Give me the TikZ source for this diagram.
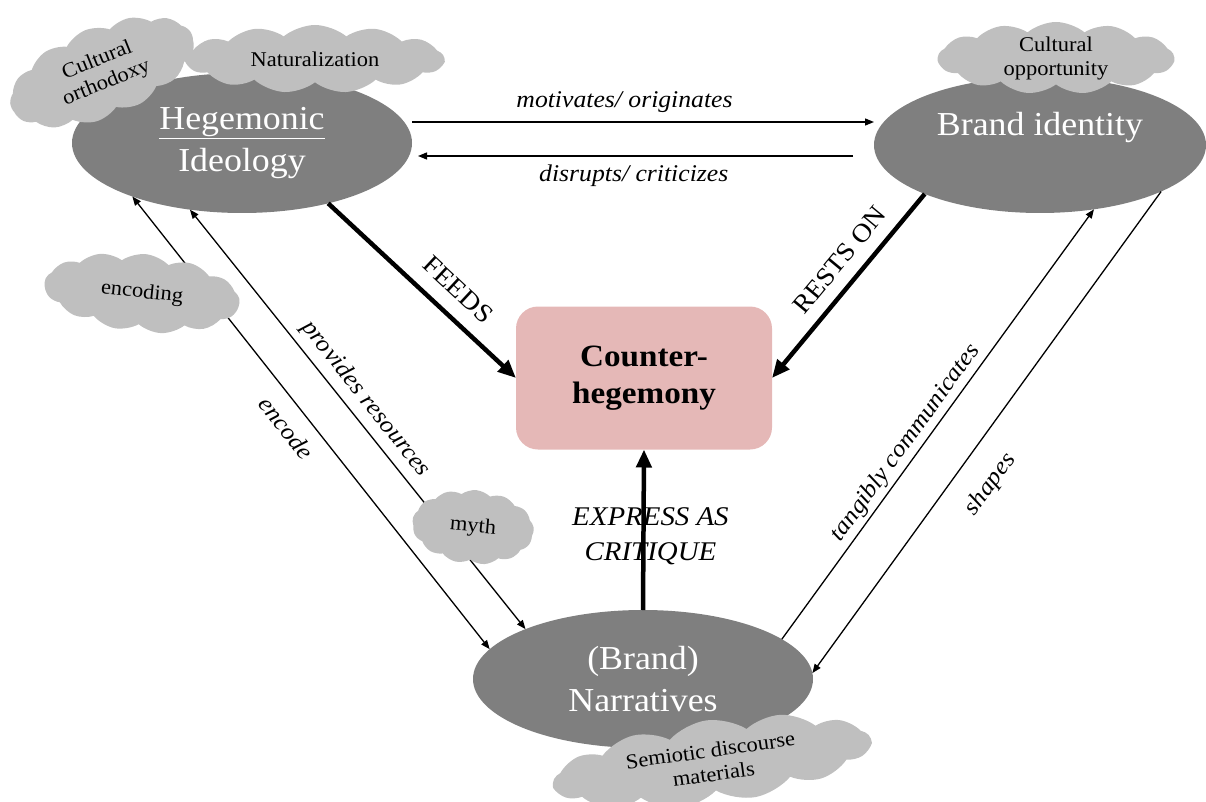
\documentclass[tikz,border=0pt]{standalone}
\usepackage{fontspec}
\setmainfont{Liberation Serif}[FakeStretch=1.07]
\usepackage{tikz}
\usetikzlibrary{shapes,shapes.symbols,arrows.meta,positioning}
\definecolor{ellgray}{HTML}{7F7F7F}
\definecolor{puffgray}{HTML}{BFBFBF}
\definecolor{boxpink}{HTML}{E5B8B7}
\tikzset{ell/.style={ellipse,fill=ellgray,text=white,minimum width=340pt,minimum height=140pt,inner sep=0pt,outer sep=0pt,align=center,font=\fontsize{33.5}{42}\selectfont},
  cbox/.style={rectangle,rounded corners=22pt,fill=boxpink,minimum width=256pt,minimum height=143pt,outer sep=0pt,align=center,font=\bfseries\fontsize{31}{37}\selectfont},
  puff/.style={cloud,cloud puffs=13,cloud puff arc=80,cloud ignores aspect,fill=puffgray,inner sep=-8pt,align=center,font=\fontsize{21}{24}\selectfont},
  rel/.style={line width=1.3pt},
  heavy/.style={line width=4.5pt,-{Triangle[length=18pt,width=15pt]}},
  lbl/.style={font=\itshape\fontsize{24}{28}\selectfont},
  shout/.style={font=\fontsize{26}{30}\selectfont}}

\begin{document}
\begin{tikzpicture}[x=1pt,y=-1pt,>={Triangle[length=9pt,width=7pt]}]
        \useasboundingbox (0,0) rectangle (1206,802);

        % the three poles and the centre
        \node[ell] (hegemony) at (242,143) {\underline{Hegemonic}\\Ideology};
        \node[ell,minimum width=332pt,minimum height=136pt] (brand) at (1040,145) {Brand identity\\\mbox{}};
        \node[ell,minimum height=138pt] (narr) at (643,679) {(Brand)\\Narratives};
        \node[cbox] (counter) at (644,378) {Counter-\\hegemony};

        % top pair
        \draw [rel,->] ([yshift=21pt]hegemony.east) -- ([yshift=21pt]hegemony.east -| brand.west) node[lbl,above=5pt,pos=0.46]{motivates/ originates};
        \draw [rel,->,shorten <=21pt,shorten >=6pt] ([yshift=-11pt]brand.west) -- ([yshift=-11pt]brand.west -| hegemony.east) node[lbl,below=5pt,pos=0.52]{disrupts/ criticizes};

        % into the centre
        \draw [heavy] (hegemony.-35) -- (counter.west) node[shout,sloped,above=11pt,pos=0.6]{FEEDS};
        \draw [heavy] (brand.-157) -- (counter.east) node[shout,sloped,above=9pt,pos=0.44]{RESTS ON};
        \draw [heavy] (narr.north) -- (counter.south) node[shout,font=\itshape\fontsize{27}{35}\selectfont,align=center,pos=0.46,xshift=7pt]{EXPRESS AS\\CRITIQUE};

        % sides
        \draw [rel,<->] (hegemony.206) -- (narr.169) node[lbl,sloped,below=10pt,pos=0.48]{encode};
        \draw [rel,<->] (hegemony.232) -- (narr.157) node[lbl,sloped,above=4pt,pos=0.48]{provides resources};
        \draw [rel,->] (narr.16) -- (brand.-50) node[lbl,sloped,above,pos=0.436]{tangibly communicates};
        \draw [rel,->] (brand.-21) -- (narr.2) node[lbl,sloped,below=19pt,pos=0.567]{shapes};

        % clouds
        \node[puff,minimum width=195pt,minimum height=90pt,rotate=22] (orthodoxy) at (102,72) {Cultural\\orthodoxy};
        \node[puff,minimum width=258pt,minimum height=68pt] (natural) at (315,59) {Naturalization};
        \node[puff,minimum width=236pt,minimum height=72pt] (opportunity) at (1056,58) {Cultural\\opportunity};
        \node[puff,minimum width=196pt,minimum height=78pt,rotate=-6] (encoding) at (142,293) {encoding};
        \node[puff,minimum width=122pt,minimum height=74pt,rotate=-5] (myth) at (473,527) {myth};
        \node[puff,minimum width=320pt,minimum height=84pt,rotate=8] (semiotic) at (712,762) {Semiotic discourse\\materials};
\end{tikzpicture}
\end{document}
